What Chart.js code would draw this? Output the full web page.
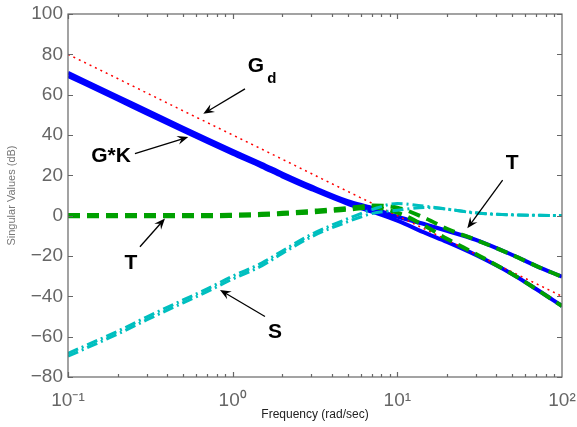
<!DOCTYPE html>
<html>
<head>
<meta charset="utf-8">
<script src="https://cdn.jsdelivr.net/npm/chart.js@4.4.1/dist/chart.umd.min.js"></script>
<style>
html,body{margin:0;padding:0;background:#fff;}
#wrap{width:577px;height:427px;}
</style>
</head>
<body>
<div id="wrap"><canvas id="c" width="577" height="427"></canvas></div>
<script>
// ---- data (frequency in rad/sec, singular values in dB) ----
const freq = [0.1,0.2,0.3,0.5,0.7,1,1.5,2,3,5,7,10,15,20,30,50,70,100];
const gd   = [80,68,60.9,52,46.2,40,33,28,20.9,12,6.2,0,-7,-12,-19.1,-28,-33.8,-40];
const gk1  = [70.8,59.1,52.2,43.6,38,32.2,25.7,20.9,14.5,7.2,3.8,-0.5,-4.5,-7.5,-12,-19.5,-25,-30.3];
const gk2  = [69.3,57.6,50.7,42.1,36.5,30.7,24.3,19.5,13.2,5.9,2.0,-2.5,-8.8,-13,-19.5,-29,-36.5,-44.8];
const t1   = [0.3,0.3,0.3,0.3,0.3,0.5,0.9,1.4,2.4,3.8,5,4,-1.5,-6.5,-12,-19.5,-25,-30.3];
const t2   = [-0.3,-0.3,-0.3,-0.3,-0.3,-0.1,0.3,0.8,1.6,3,4,1.5,-5.5,-11.5,-19,-29,-36.5,-44.8];
const s1   = [-68.3,-57.3,-50.3,-41.8,-36.3,-30,-23.5,-17.5,-9.3,-1.5,3,6,4.6,3.3,1.4,0.4,0.2,0.1];
const s2   = [-69.7,-58.7,-51.7,-43.2,-37.7,-31.4,-24.9,-18.7,-10.5,-3,1,2.7,4,3.2,1.3,0.4,0.2,0.1];
const xTickValues = [0.1,1,10,100];
const xTickLabels = ['10\u207B\u00B9','10\u2070','10\u00B9','10\u00B2'];
const yTicks = [-80,-60,-40,-20,0,20,40,60,80,100];
// annotations: label, label anchor (freq,dB), arrow start (freq,dB), arrow end (freq,dB)
const annLabels = ['G','G*K','T','S','T'];
const annSub    = ['d','','','',''];
const annText   = [[1.385,73.9],[0.1824,29.7],[0.2413,-23.5],[1.806,-57.6],[49.9,25.8]];
const annFrom   = [[1.188,62.9],[0.255,30.8],[0.2735,-15.4],[1.571,-50.0],[43.6,17.6]];
const annTo     = [[0.663,50.5],[0.5375,39.0],[0.388,-1.4],[0.8375,-36.8],[26.6,-6.3]];

const FONT = '"Liberation Sans", Arial, Helvetica, sans-serif';
const pts = v => freq.map((f,i)=>({x:f,y:v[i]}));

function ds(label, vals, color, width, dash){
  return {label, data:pts(vals), borderColor:color, backgroundColor:color, borderWidth:width,
    borderDash:dash, pointRadius:0, fill:false, cubicInterpolationMode:'monotone', borderCapStyle:'butt'};
}

const framePlugin = {
  id:'frame',
  afterDatasetsDraw(chart){
    const ctx = chart.ctx, a = chart.chartArea;
    const xs = chart.scales.x, ys = chart.scales.y;
    ctx.save();
    ctx.strokeStyle = '#666';
    ctx.lineWidth = 1.2;
    ctx.strokeRect(a.left, a.top, a.right-a.left, a.bottom-a.top);
    ctx.beginPath();
    yTicks.forEach(v=>{
      const y = Math.round(ys.getPixelForValue(v))+0.5;
      ctx.moveTo(a.left, y); ctx.lineTo(a.left+5, y);
      ctx.moveTo(a.right, y); ctx.lineTo(a.right-5, y);
    });
    for(let d=-1; d<2; d++){
      for(let m=1; m<=9; m++){
        const v = m*Math.pow(10,d);
        const x = Math.round(xs.getPixelForValue(v))+0.5;
        const L = m===1?5:3;
        ctx.moveTo(x, a.bottom); ctx.lineTo(x, a.bottom-L);
        ctx.moveTo(x, a.top); ctx.lineTo(x, a.top+L);
      }
    }
    ctx.stroke();

    ctx.fillStyle = '#000';
    ctx.strokeStyle = '#000';
    ctx.lineWidth = 1.3;
    for(let i=0;i<annLabels.length;i++){
      const tx = xs.getPixelForValue(annText[i][0]), ty = ys.getPixelForValue(annText[i][1]);
      ctx.font = 'bold 21px '+FONT;
      ctx.textAlign = 'center'; ctx.textBaseline = 'middle';
      ctx.fillText(annLabels[i], tx, ty);
      if(annSub[i]){
        const w = ctx.measureText(annLabels[i]).width;
        ctx.font = 'bold 15px '+FONT;
        ctx.textAlign = 'left';
        ctx.fillText(annSub[i], tx + w/2 + 3, ty + 12);
      }
      const x0 = xs.getPixelForValue(annFrom[i][0]), y0 = ys.getPixelForValue(annFrom[i][1]);
      const x1 = xs.getPixelForValue(annTo[i][0]), y1 = ys.getPixelForValue(annTo[i][1]);
      const ang = Math.atan2(y1-y0, x1-x0);
      const hl = 11, hw = 4.5;
      const bx = x1 - hl*Math.cos(ang), by = y1 - hl*Math.sin(ang);
      ctx.beginPath();
      ctx.moveTo(x0,y0);
      ctx.lineTo(x1 - 6*Math.cos(ang), y1 - 6*Math.sin(ang));
      ctx.stroke();
      ctx.beginPath();
      ctx.moveTo(x1,y1);
      ctx.lineTo(bx + hw*Math.sin(ang), by - hw*Math.cos(ang));
      ctx.lineTo(x1 - 7*Math.cos(ang), y1 - 7*Math.sin(ang));
      ctx.lineTo(bx - hw*Math.sin(ang), by + hw*Math.cos(ang));
      ctx.closePath();
      ctx.fill();
    }
    ctx.restore();
  }
};

new Chart(document.getElementById('c'), {
  type:'line',
  data:{
    datasets:[
      ds('S', s1, '#00bfbf', 3, [11,4,2,4]),
      ds('S', s2, '#00bfbf', 3, [11,4,2,4]),
      ds('T', t1, '#00a000', 4, [12,7]),
      ds('T', t2, '#00a000', 4, [12,7]),
      ds('Gd', gd, '#ff0000', 1.5, [2,4]),
      ds('G*K', gk1, '#0000ff', 4, []),
      ds('G*K', gk2, '#0000ff', 4, [])
    ]
  },
  options:{
    responsive:false,
    animation:false,
    devicePixelRatio:1,
    layout:{padding:{top:14,right:15,left:0,bottom:0}},
    plugins:{legend:{display:false}, tooltip:{enabled:false}},
    scales:{
      x:{
        type:'logarithmic', min:0.1, max:100,
        grid:{display:false, drawTicks:false},
        border:{display:false},
        afterFit(s){ s.height = 50; s.paddingLeft = 0; s.paddingRight = 0; },
        afterBuildTicks(s){ s.ticks = xTickValues.map(v=>({value:v})); },
        ticks:{
          autoSkip:false, maxRotation:0, padding:12, color:'#666',
          font:{family:FONT, size:19},
          callback(v){ const i = xTickValues.indexOf(v); return i>=0 ? xTickLabels[i] : ''; }
        },
        title:{display:true, text:'Frequency (rad/sec)', color:'#222',
          font:{family:FONT, size:12}, padding:{top:0,bottom:5}}
      },
      y:{
        min:-80, max:100,
        grid:{display:false, drawTicks:false},
        border:{display:false},
        afterFit(s){ s.width = 68; s.paddingTop = 0; s.paddingBottom = 0; },
        afterBuildTicks(s){ s.ticks = yTicks.map(v=>({value:v})); },
        ticks:{
          padding:5, color:'#666', font:{family:FONT, size:19},
          callback(v){ return String(v).replace('-','\u2212'); }
        },
        title:{display:true, text:'Singular Values (dB)', color:'#777',
          font:{family:FONT, size:11}, padding:{top:5,bottom:0}}
      }
    }
  },
  plugins:[framePlugin]
});
</script>
</body>
</html>
